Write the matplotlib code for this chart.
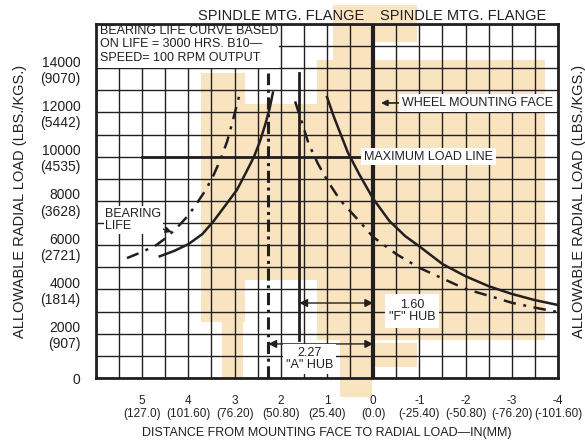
import numpy as np
import matplotlib.pyplot as plt
import matplotlib.patches as mpatches

plt.rcParams['font.family'] = ['Liberation Sans', 'DejaVu Sans']

# axis ticks (inches / lbs)
x_ticks = [5, 4, 3, 2, 1, 0, -1, -2, -3, -4]
x_tick_labels = ['5\n(127.0)', '4\n(101.60)', '3\n(76.20)', '2\n(50.80)', '1\n(25.40)',
                 '0\n(0.0)', '-1\n(-25.40)', '-2\n(-50.80)', '-3\n(-76.20)', '-4\n(-101.60)']
y_ticks = [0, 2000, 4000, 6000, 8000, 10000, 12000, 14000]
y_tick_labels = ['0', '2000\n(907)', '4000\n(1814)', '6000\n(2721)', '8000\n(3628)',
                 '10000\n(4535)', '12000\n(5442)', '14000\n(9070)']

# "A" hub curves (left side of the 2.27 line)
a_solid_x = [4.62, 4.3, 4.0, 3.7, 3.45, 3.2, 2.95, 2.75, 2.58, 2.45, 2.33, 2.24, 2.17]
a_solid_y = [5500, 5750, 6050, 6500, 7100, 7800, 8500, 9300, 10000, 10700, 11500, 12200, 12900]
a_life_x = [5.33, 5.0, 4.7, 4.46, 4.2, 4.0, 3.8, 3.64, 3.47, 3.3, 3.16, 3.03, 2.9]
a_life_y = [5420, 5700, 6000, 6370, 6900, 7350, 7950, 8450, 9100, 9900, 10700, 11700, 12750]

# "F" hub curves (right side)
f_solid_x = [1.0, 0.85, 0.7, 0.55, 0.3, 0.0, -0.35, -0.7, -1.0, -1.5, -2.0, -2.5, -3.0, -3.5, -4.0]
f_solid_y = [12700, 11800, 11000, 10200, 9200, 8100, 7100, 6400, 5950, 5150, 4600, 4150, 3800, 3520, 3300]
f_life_x = [1.69, 1.55, 1.4, 1.2, 1.0, 0.72, 0.35, 0.0, -0.5, -1.0, -1.5, -2.0, -2.5, -3.0, -3.5, -4.0]
f_life_y = [12500, 11600, 10600, 9700, 8950, 8050, 7200, 6370, 5600, 4980, 4500, 4020, 3720, 3400, 3180, 2980]

max_load = 10000
a_hub = 2.27
f_hub = 1.60

# light orange background blocks (x0, x1, y0, y1)
wash = [(2.775, 3.72, 2530, 13790), (2.82, 3.27, 0, 2530), (1.217, 2.775, 4430, 12400),
        (-3.72, 1.217, 1720, 14370), (0.026, 0.87, 14370, 16860), (-0.95, 0.026, 15200, 16860),
        (0.03, 0.72, -860, 1720), (-0.95, 0.03, 500, 1580)]

ink = '#231f20'

fig = plt.figure(figsize=(5.85, 4.4), dpi=100)
ax = fig.add_axes([0.1641, 0.1409, 0.7897, 0.8046])
ax.set_xlim(6, -4)
ax.set_ylim(0, 16000)

for x0, x1, y0, y1 in wash:
    ax.add_patch(mpatches.Rectangle((x0, y0), x1 - x0, y1 - y0, facecolor='#f9e4bf',
                                    edgecolor='none', zorder=0.2, clip_on=False))

# grid: half inch by 1000 lbs, drawn above the wash
ax.vlines(np.arange(-4, 6.01, 0.5), 0, 16000, colors=ink, linewidths=1.0, zorder=4.5)
ax.hlines(np.arange(0, 16001, 1000), -4, 6, colors=ink, linewidths=1.0, zorder=4.5)

ax.set_xticks(x_ticks)
ax.set_xticklabels(x_tick_labels, fontsize=8.5)
ax.set_yticks(y_ticks)
ax.set_yticklabels(y_tick_labels, fontsize=10)
ax.tick_params(which='both', length=0)
ax.tick_params(axis='x', pad=12, colors=ink)
ax.tick_params(axis='y', pad=11, colors=ink)
for s in ax.spines.values():
    s.set_linewidth(2)
    s.set_color(ink)
    s.set_zorder(7)

# info box top left
ax.add_patch(mpatches.Rectangle((2.03, 14030), 3.97, 1970, facecolor='white',
                                edgecolor='none', zorder=5.5))
ax.text(5.91, 15950, 'BEARING LIFE CURVE BASED\nON LIFE = 3000 HRS. B10\u2014\nSPEED= 100 RPM OUTPUT',
        fontsize=9, color=ink, va='top', ha='left', linespacing=1.15, zorder=5.6)

# reference lines
ax.axvline(0, color=ink, lw=3, zorder=4)
ax.plot([a_hub, a_hub], [0, 13800], color=ink, lw=2.2, ls=(0, (4, 1.5, 1, 1.5)), zorder=4)
ax.plot([f_hub, f_hub], [1700, 13800], color=ink, lw=2, zorder=4)
ax.plot([5, 0.2], [max_load, max_load], color=ink, lw=2, zorder=4)

dd = (0, (5, 3, 1.2, 3))
ax.plot(a_solid_x, a_solid_y, color=ink, lw=1.8, zorder=4)
ax.plot(a_life_x, a_life_y, color=ink, lw=1.8, ls=dd, zorder=4)
ax.plot(f_solid_x, f_solid_y, color=ink, lw=1.8, zorder=4)
ax.plot(f_life_x, f_life_y, color=ink, lw=1.8, ls=dd, zorder=4)

box = dict(facecolor='white', edgecolor='none', pad=2)
ax.text(0.2, max_load, 'MAXIMUM LOAD LINE', fontsize=9, color=ink, ha='left', va='center',
        bbox=box, zorder=6)
ax.annotate('WHEEL MOUNTING FACE', xy=(-0.17, 12430), xytext=(-0.62, 12430), fontsize=9,
            color=ink, ha='left', va='center', bbox=box, zorder=6,
            arrowprops=dict(arrowstyle='-|>', color=ink, lw=1.2, shrinkA=0, shrinkB=0))
ax.annotate('BEARING\nLIFE', xy=(4.36, 6600), xytext=(5.8, 7140), fontsize=9, color=ink,
            ha='left', va='center', linespacing=1.1, zorder=6,
            bbox=dict(facecolor='white', edgecolor='none', pad=1),
            arrowprops=dict(arrowstyle='-|>', color=ink, lw=1.0, shrinkA=0, shrinkB=0,
                            relpos=(0.62, 0.45)))

# hub dimensions
arr = dict(arrowstyle='<|-|>', color=ink, lw=1.0, shrinkA=0, shrinkB=0, mutation_scale=12)
ax.annotate('', xy=(0, 3390), xytext=(f_hub, 3390), arrowprops=arr, zorder=6)
ax.annotate('', xy=(0, 1540), xytext=(a_hub, 1540), arrowprops=arr, zorder=6)
ax.text(-0.84, 3030, '1.60\n"F" HUB', fontsize=9, color=ink, ha='center', va='center',
        multialignment='center', linespacing=1.1, bbox=dict(facecolor='white', edgecolor='none', pad=3), zorder=6)
ax.text(1.37, 860, '2.27\n"A" HUB', fontsize=9, color=ink, ha='center', va='center',
        multialignment='center', linespacing=1.1, bbox=dict(facecolor='white', edgecolor='none', pad=2), zorder=6)

# top labels
for xc in (2.0, -1.94):
    ax.annotate('SPINDLE MTG. FLANGE', xy=(xc, 1.0), xycoords=('data', 'axes fraction'),
                xytext=(0, 1), textcoords='offset points', fontsize=10.5, color=ink,
                ha='center', va='bottom', zorder=6)

ax.set_xlabel('DISTANCE FROM MOUNTING FACE TO RADIAL LOAD\u2014IN(MM)', fontsize=9,
              color=ink, labelpad=5)
fig.text(20 / 585, 0.5432, 'ALLOWABLE RADIAL LOAD (LBS./KGS.)', rotation=90, fontsize=10.5,
         color=ink, ha='center', va='center')
fig.text(579 / 585, 0.5432, 'ALLOWABLE RADIAL LOAD (LBS./KGS.)', rotation=90, fontsize=10.5,
         color=ink, ha='center', va='center')

fig.savefig('out.png', dpi=100)
